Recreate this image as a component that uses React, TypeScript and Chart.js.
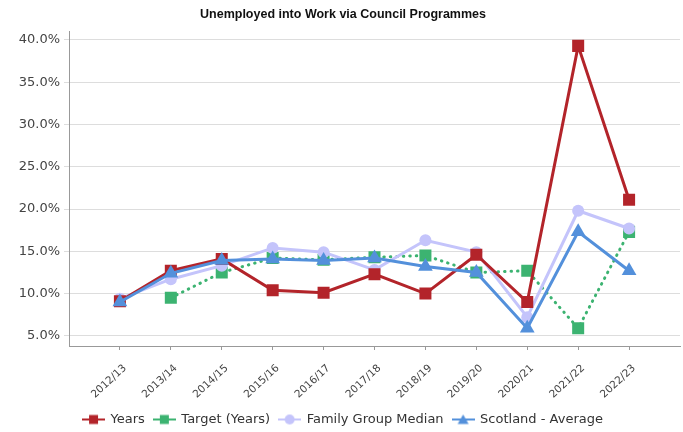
import React, { useEffect, useRef } from "react";
import { Chart, registerables } from "chart.js";

Chart.register(...registerables);

const categories = ["2012/13", "2013/14", "2014/15", "2015/16", "2016/17", "2017/18", "2018/19", "2019/20", "2020/21", "2021/22", "2022/23"];
const years = [9.1, 12.7, 14.1, 10.4, 10.1, 12.3, 10.0, 14.6, 9.0, 39.3, 21.1];
const target = [null, 9.5, 12.5, 14.2, 14.0, 14.3, 14.5, 12.5, 12.7, 5.9, 17.3];
const familyMedian = [9.4, 11.7, 13.3, 15.4, 14.9, 12.8, 16.3, 14.9, 7.2, 19.8, 17.7];
const scotland = [9.0, 12.4, 13.9, 14.1, 13.9, 14.2, 13.2, 12.5, 5.9, 17.3, 12.7];
const yTicks = [5, 10, 15, 20, 25, 30, 35, 40];

const FONT = "'DejaVu Sans', sans-serif";
const TITLE_FONT = "'Liberation Sans', sans-serif";

function legendIcon(color: string, shape: string) {
  const c = document.createElement("canvas");
  c.width = 23;
  c.height = 12;
  const ctx = c.getContext("2d")!;
  ctx.strokeStyle = color;
  ctx.fillStyle = color;
  ctx.lineWidth = 2;
  ctx.beginPath();
  ctx.moveTo(0, 6);
  ctx.lineTo(23, 6);
  ctx.stroke();
  ctx.beginPath();
  if (shape === "rect") {
    ctx.rect(7, 1.5, 9, 9);
  } else if (shape === "circle") {
    ctx.arc(11.5, 6, 5, 0, Math.PI * 2);
  } else {
    ctx.moveTo(11.5, 1);
    ctx.lineTo(17, 10.5);
    ctx.lineTo(6, 10.5);
    ctx.closePath();
  }
  ctx.fill();
  return c;
}

const toPts = (arr: (number | null)[]) => arr.map((v, i) => ({ x: i, y: v }));

export default function App() {
  const ref = useRef<HTMLCanvasElement>(null);
  useEffect(() => {
    const red = "#b3242a";
    const green = "#3cb371";
    const lav = "#c4c4fb";
    const blue = "#5390db";
    const icons = [
      legendIcon(red, "rect"),
      legendIcon(green, "rect"),
      legendIcon(lav, "circle"),
      legendIcon(blue, "triangle"),
    ];
    const chart = new Chart(ref.current!, {
      type: "line",
      data: {
        datasets: [
          { label: "Years", data: toPts(years), borderColor: red, backgroundColor: red, borderWidth: 3, pointStyle: "rect", pointRadius: 8.5, pointHoverRadius: 8.5, pointBorderWidth: 0, order: 1 },
          { label: "Target (Years)", data: toPts(target), borderColor: green, backgroundColor: green, borderWidth: 3, borderDash: [0.5, 6], borderCapStyle: "round", pointStyle: "rect", pointRadius: 8.5, pointBorderWidth: 0, order: 3 },
          { label: "Family Group Median", data: toPts(familyMedian), borderColor: lav, backgroundColor: lav, borderWidth: 3, pointStyle: "circle", pointRadius: 6, pointBorderWidth: 0, order: 2 },
          { label: "Scotland - Average", data: toPts(scotland), borderColor: blue, backgroundColor: blue, borderWidth: 3, pointStyle: "triangle", pointRadius: 8.5, pointBorderWidth: 0, order: 0 },
        ] as any,
      },
      options: {
        animation: false,
        responsive: true,
        maintainAspectRatio: false,
        layout: { autoPadding: false, padding: { left: 6, right: 3, top: 0, bottom: -4 } },
        elements: { line: { tension: 0 } },
        plugins: {
          title: {
            display: true,
            text: "Unemployed into Work via Council Programmes",
            color: "#111",
            font: { family: TITLE_FONT, size: 12.5, weight: "bold" },
            padding: { top: 7, bottom: 9.5 },
          },
          legend: {
            position: "bottom",
            labels: {
              color: "#333",
              font: { family: FONT, size: 13 },
              usePointStyle: true,
              pointStyleWidth: 21,
              boxHeight: 12,
              padding: 9,
              sort: (a: any, b: any) => a.datasetIndex - b.datasetIndex,
              generateLabels: (ch: any) => {
                const items = (Chart.defaults.plugins.legend.labels as any).generateLabels(ch);
                return items.map((it: any) => ({ ...it, pointStyle: icons[it.datasetIndex] }));
              },
            },
          },
          tooltip: { enabled: false },
        },
        scales: {
          x: {
            type: "linear",
            min: -1,
            max: 11,
            afterBuildTicks: (s: any) => {
              s.ticks = categories.map((_, i) => ({ value: i }));
            },
            afterFit: (s: any) => {
              s.height = 58;
              s.paddingLeft = 0;
              s.paddingRight = 0;
            },
            ticks: {
              autoSkip: false,
              minRotation: 43,
              maxRotation: 43,
              color: "#444",
              font: { family: FONT, size: 10.5 },
              padding: 12,
              labelOffset: 5,
              callback: (v: any) => categories[v] ?? "",
            },
            grid: { display: true, drawOnChartArea: false, drawTicks: true, tickLength: 4, color: "#999" },
            border: { color: "#999", width: 1 },
          },
          y: {
            type: "linear",
            min: 3.8,
            max: 41,
            afterBuildTicks: (s: any) => {
              s.ticks = yTicks.map((v) => ({ value: v }));
            },
            afterFit: (s: any) => {
              s.width = 63;
            },
            ticks: {
              color: "#444",
              font: { family: FONT, size: 13 },
              padding: 4,
              callback: (v: any) => Number(v).toFixed(1) + "%",
            },
            grid: { color: "#dddddd", lineWidth: 1, tickLength: 5, drawTicks: true },
            border: { color: "#999", width: 1 },
          },
        },
      } as any,
    });
    return () => chart.destroy();
  }, []);
  return (
    <div style={{ position: "absolute", left: 0, top: 0, width: 683, height: 432, background: "#fff" }}>
      <canvas ref={ref} />
    </div>
  );
}
